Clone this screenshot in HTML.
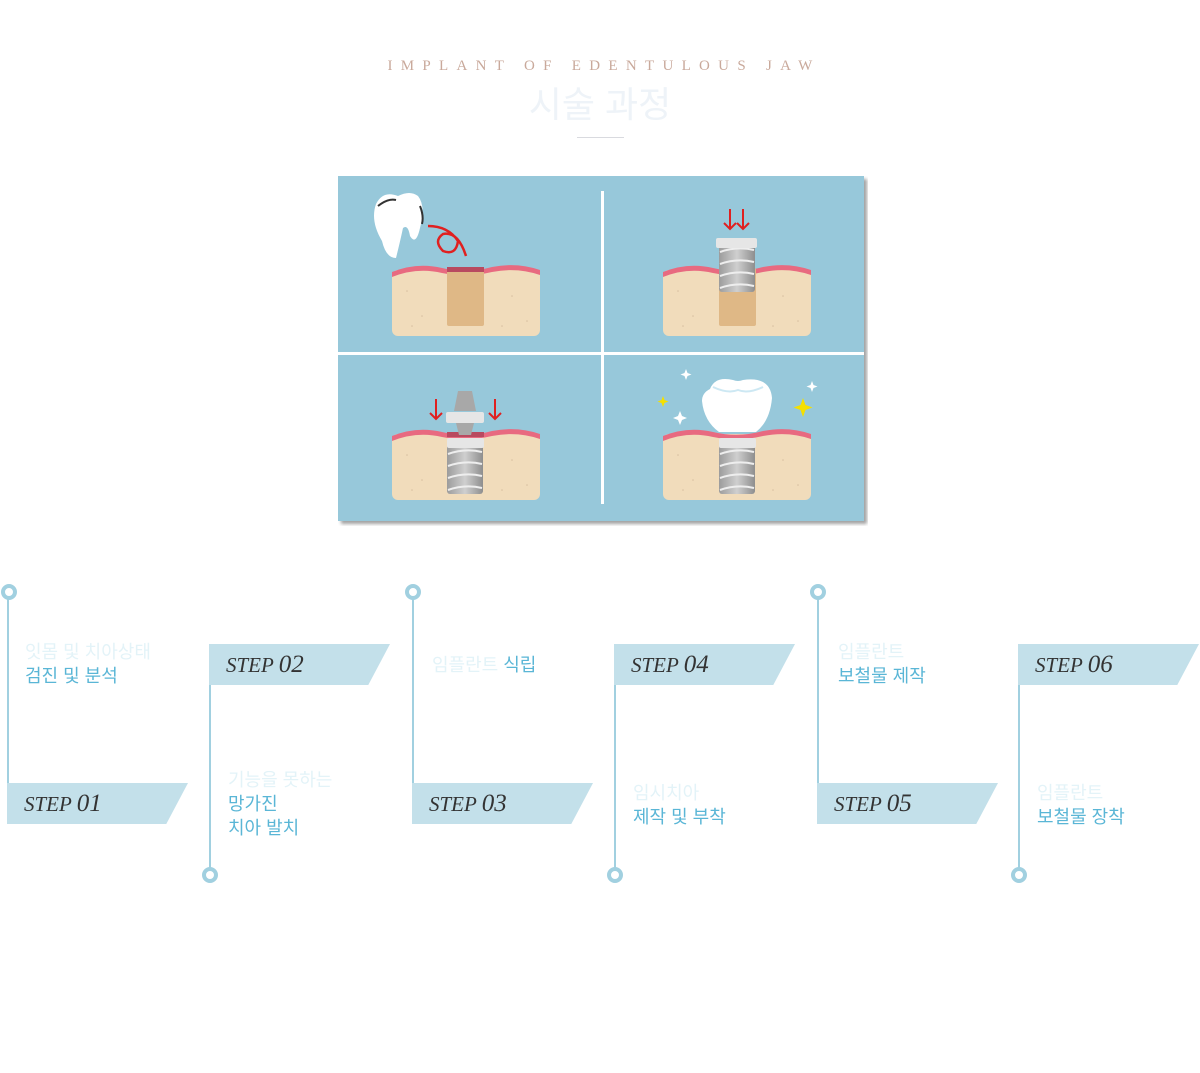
<!DOCTYPE html>
<html><head><meta charset="utf-8"><style>
body{margin:0;width:1200px;height:1073px;background:#fff;position:relative;overflow:hidden;font-family:"Liberation Sans","Noto Sans CJK KR",sans-serif}
.abs{position:absolute}
.t1{left:4px;width:1200px;top:58px;text-align:center;font-family:"Liberation Serif",serif;font-size:15px;letter-spacing:8.3px;color:#c9a99b}
.t2{left:0;width:1200px;top:76px;text-align:center;font-size:36px;color:#eef3f8}
.hr{left:577px;top:137px;width:47px;height:1px;background:#d9dadf}
.vl{width:2px;background:#a1d0e0}
.dot{width:8px;height:8px;border:4px solid #a1d0e0;border-radius:50%;background:#fff}
.ban{height:41px;width:181px;background:#c3e0ea;clip-path:polygon(0 0,100% 0,88% 100%,0 100%)}
.ban span{position:absolute;left:17px;top:7px;font-family:"Liberation Serif",serif;font-style:italic;font-size:21px;color:#333}
.ban b{font-weight:normal;font-size:25px}
.tx{font-size:18px;line-height:24px;color:#5ab6d6}
.tx i{font-style:normal;color:#e3f3f8;display:block}
</style></head><body>
<div class="abs t1">IMPLANT OF EDENTULOUS JAW</div>
<div class="abs t2">시술 과정</div>
<div class="abs hr"></div>

<svg class="abs" style="left:338px;top:176px" width="530" height="350" viewBox="0 0 530 350">
<defs>
<filter id="sh"><feDropShadow dx="3" dy="3" stdDeviation="1.5" flood-color="#666" flood-opacity=".6"/></filter>
<linearGradient id="met" x1="0" x2="1"><stop offset="0" stop-color="#9c9c9c"/><stop offset=".5" stop-color="#cfcfcf"/><stop offset="1" stop-color="#8e8e8e"/></linearGradient>
<g id="gum">
<rect x="0" y="4" width="148" height="66" rx="6" fill="#f1dcbb"/>
<path d="M0 6 Q25 -4 50 2 Q75 8 100 1 Q125 -4 148 4 L148 9 Q125 1 100 6 Q75 12 50 7 Q25 1 0 11Z" fill="#e86a80"/>
<g fill="#d8bfa0"><circle cx="15" cy="25" r=".8"/><circle cx="30" cy="50" r=".8"/><circle cx="120" cy="30" r=".8"/><circle cx="135" cy="55" r=".8"/><circle cx="110" cy="60" r=".8"/><circle cx="20" cy="60" r=".8"/></g>
</g>
<g id="screw"><rect x="0" y="0" width="36" height="50" rx="3" fill="url(#met)"/>
<path d="M1 10 Q18 4 35 8 M1 22 Q18 16 35 20 M1 34 Q18 28 35 32 M1 46 Q18 40 35 44" stroke="#eee" stroke-width="2" fill="none"/></g>
</defs>
<rect x="0" y="0" width="526" height="345" fill="#97c8da" filter="url(#sh)"/>
<rect x="0" y="176" width="526" height="3" fill="#fff"/>
<rect x="263" y="15" width="3" height="313" fill="#fff"/>
<use href="#gum" x="54" y="90"/>
<rect x="109" y="92" width="37" height="58" rx="2" fill="#dfb886"/>
<rect x="109" y="91" width="37" height="5" fill="#b84a60"/>
<path d="M38 28 Q45 14 60 20 Q72 14 80 20 Q88 30 82 52 Q78 70 72 60 Q70 48 65 52 Q62 66 58 82 Q48 82 44 65 Q32 45 38 28Z" fill="#fff"/>
<path d="M40 30 Q50 22 58 24 M82 30 Q86 40 84 48" stroke="#333" stroke-width="2" fill="none"/>
<path d="M90 50 Q110 50 120 65 Q118 80 105 75 Q95 65 105 58 Q120 55 128 80" stroke="#e02020" stroke-width="2.5" fill="none"/>
<use href="#gum" x="325" y="90"/>
<rect x="381" y="92" width="37" height="58" rx="2" fill="#dfb886"/>
<use href="#screw" x="381" y="66"/>
<rect x="378" y="62" width="41" height="10" rx="2" fill="#e6e6e6"/>
<path d="M392 33 v20 M386 47 l6 6 l6 -6 M405 33 v20 M399 47 l6 6 l6 -6" stroke="#e02020" stroke-width="2" fill="none"/>
<use href="#gum" x="54" y="254"/>
<rect x="109" y="256" width="37" height="5" fill="#b84a60"/>
<use href="#screw" x="109" y="268"/>
<rect x="109" y="262" width="37" height="10" rx="2" fill="#e6e6e6"/>
<path d="M120 215 h14 l4 20 h-22z" fill="#a8a8a8"/>
<rect x="108" y="236" width="38" height="11" rx="2" fill="#e6e6e6"/>
<path d="M118 247 h18 l-3 12 h-12z" fill="#a8a8a8"/>
<path d="M98 223 v20 M92 237 l6 6 l6 -6 M157 223 v20 M151 237 l6 6 l6 -6" stroke="#e02020" stroke-width="2" fill="none"/>
<use href="#gum" x="325" y="254"/>
<use href="#screw" x="381" y="268"/>
<rect x="381" y="262" width="37" height="10" rx="2" fill="#e6e6e6"/>
<path d="M372 213 Q377 200 395 204 Q400 206 405 204 Q432 200 434 222 Q432 245 418 256 L381 256 Q366 245 364 225 Q364 217 372 213Z" fill="#fff"/>
<path d="M375 211 Q390 218 400 214 Q410 218 425 211" stroke="#cde8f3" stroke-width="2" fill="none"/>
<g fill="#fff"><path d="M348 193 l1.5 4 l4 1.5 l-4 1.5 l-1.5 4 l-1.5 -4 l-4 -1.5 l4 -1.5z"/><path d="M342 235 l2 5 l5 2 l-5 2 l-2 5 l-2 -5 l-5 -2 l5 -2z"/><path d="M474 205 l1.5 4 l4 1.5 l-4 1.5 l-1.5 4 l-1.5 -4 l-4 -1.5 l4 -1.5z"/></g>
<g fill="#f5e000"><path d="M325 220 l1.5 4 l4 1.5 l-4 1.5 l-1.5 4 l-1.5 -4 l-4 -1.5 l4 -1.5z"/><path d="M465 222 l2.5 7 l7 2.5 l-7 2.5 l-2.5 7 l-2.5 -7 l-7 -2.5 l7 -2.5z"/></g>
</svg>

<div class="abs dot" style="left:1px;top:584px"></div><div class="abs vl" style="left:7px;top:598px;height:226px"></div>
<div class="abs ban" style="left:7px;top:783px"><span>STEP <b>01</b></span></div>
<div class="abs tx" style="left:25px;top:640px"><i>잇몸 및 치아상태</i>검진 및 분석</div>

<div class="abs dot" style="left:405px;top:584px"></div><div class="abs vl" style="left:412px;top:598px;height:226px"></div>
<div class="abs ban" style="left:412px;top:783px"><span>STEP <b>03</b></span></div>
<div class="abs tx" style="left:432px;top:653px"><span style="color:#e3f3f8">임플란트</span> 식립</div>

<div class="abs dot" style="left:810px;top:584px"></div><div class="abs vl" style="left:817px;top:598px;height:226px"></div>
<div class="abs ban" style="left:817px;top:783px"><span>STEP <b>05</b></span></div>
<div class="abs tx" style="left:838px;top:640px"><i>임플란트</i>보철물 제작</div>

<div class="abs vl" style="left:209px;top:644px;height:224px"></div><div class="abs dot" style="left:202px;top:867px"></div>
<div class="abs ban" style="left:209px;top:644px"><span>STEP <b>02</b></span></div>
<div class="abs tx" style="left:228px;top:768px"><i>기능을 못하는</i>망가진<br>치아 발치</div>

<div class="abs vl" style="left:614px;top:644px;height:224px"></div><div class="abs dot" style="left:607px;top:867px"></div>
<div class="abs ban" style="left:614px;top:644px"><span>STEP <b>04</b></span></div>
<div class="abs tx" style="left:633px;top:781px"><i>임시치아</i>제작 및 부착</div>

<div class="abs vl" style="left:1018px;top:644px;height:224px"></div><div class="abs dot" style="left:1011px;top:867px"></div>
<div class="abs ban" style="left:1018px;top:644px"><span>STEP <b>06</b></span></div>
<div class="abs tx" style="left:1037px;top:781px"><i>임플란트</i>보철물 장착</div>
</body></html>
